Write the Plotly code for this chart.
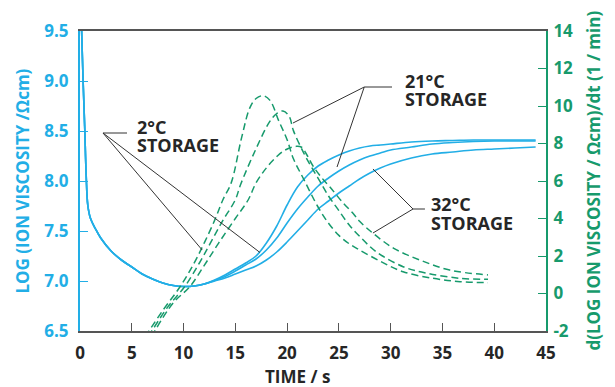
import plotly.graph_objects as go

# ---------------- data ----------------
t_blue = [0.1, 0.3, 0.45, 0.6, 0.75, 1.0, 1.5, 2, 3, 4, 5, 6, 7, 8, 9, 10, 11, 12, 13, 14,
          15, 16, 17, 18, 19, 20, 21, 22, 23, 24, 25, 26, 27, 28, 29, 30, 32, 34, 36, 38,
          40, 42, 44]
common_head = [9.7, 9.0, 8.55, 8.05, 7.76, 7.63, 7.52, 7.43, 7.30, 7.21, 7.14, 7.07, 7.02,
               6.98, 6.955, 6.945, 6.95, 6.97]
visc_a = common_head + [7.01, 7.06, 7.12, 7.18, 7.25, 7.38, 7.55, 7.76, 7.94, 8.06, 8.15,
                        8.21, 8.26, 8.30, 8.33, 8.35, 8.36, 8.37, 8.39, 8.40, 8.405, 8.41,
                        8.41, 8.41, 8.41]
visc_b = common_head + [7.005, 7.045, 7.10, 7.16, 7.22, 7.31, 7.43, 7.58, 7.72, 7.84, 7.95,
                        8.03, 8.10, 8.16, 8.21, 8.25, 8.28, 8.31, 8.34, 8.37, 8.385, 8.395,
                        8.40, 8.40, 8.40]
visc_c = common_head + [7.0, 7.03, 7.07, 7.11, 7.15, 7.21, 7.29, 7.39, 7.50, 7.61, 7.72,
                        7.80, 7.88, 7.95, 8.02, 8.08, 8.13, 8.17, 8.23, 8.27, 8.29, 8.31,
                        8.32, 8.33, 8.34]

t_deriv_a = [6.3, 8.0, 9.66, 11.0, 12.0, 13.0, 13.8, 14.6, 15.6, 16.4, 17.0, 17.7, 18.35,
             19.2, 20.0, 20.6, 21.6, 23.0, 24.0, 25.0, 26.0, 27.0, 29.0, 31.2, 34.1, 36.7, 39.4]
deriv_a = [-2.3, -0.9, 0.36, 1.6, 2.7, 3.9, 5.0, 5.9, 8.3, 9.9, 10.4, 10.55, 10.3,
           9.2, 8.2, 7.2, 6.1, 4.6, 3.75, 3.1, 2.65, 2.32, 1.72, 1.16, 0.81, 0.63, 0.58]

t_deriv_b = [6.6, 8.5, 10.1, 11.5, 12.6, 13.8, 15.0, 15.5, 16.9, 18.3, 19.0, 19.6, 20.2,
             20.6, 21.6, 22.4, 23.2, 24.0, 24.9, 26.0, 27.0, 28.6, 31.2, 33.5, 36.7, 39.4]
deriv_b = [-2.3, -0.7, 0.36, 1.6, 2.7, 3.9, 5.0, 5.8, 7.6, 9.15, 9.6, 9.73, 9.45,
           8.7, 7.5, 6.7, 5.95, 5.2, 4.5, 3.65, 3.05, 2.23, 1.43, 1.08, 0.81, 0.76]

t_deriv_c = [6.9, 9.0, 10.6, 12.0, 13.4, 15.0, 16.25, 17.0, 18.0, 19.0, 19.8, 20.9, 21.4,
             21.9, 22.5, 23.3, 24.1, 25.3, 26.4, 27.0, 28.3, 30.3, 32.8, 35.7, 39.4]
deriv_c = [-2.3, -0.5, 0.36, 1.5, 2.7, 4.0, 5.0, 5.9, 6.7, 7.3, 7.65, 7.85, 7.8,
           7.4, 6.8, 6.2, 5.7, 4.9, 4.25, 3.85, 3.21, 2.41, 1.79, 1.25, 0.99]

x_ticks = [0, 5, 10, 15, 20, 25, 30, 35, 40, 45]
y_left_ticks = [6.5, 7.0, 7.5, 8.0, 8.5, 9.0, 9.5]
y_left_labels = ["6.5", "7.0", "7.5", "8.0", "8.5", "9.0", "9.5"]
y_right_ticks = [-2, 0, 2, 4, 6, 8, 10, 12, 14]
y_right_labels = ["-2", "0", "2", "4", "6", "8", "10", "12", "14"]

# leader lines: (hub, horizontal end, pointer ends) in (time, log-viscosity) coords
leaders = {
    "2": {"hub": (2.22, 8.48), "h_end": (4.54, 8.48), "ends": [(11.8, 7.31), (17.38, 7.285)]},
    "21": {"hub": (27.45, 8.94), "h_end": (30.13, 8.94), "ends": [(20.57, 8.58), (24.82, 8.14)]},
    "32": {"hub": (32.16, 7.72), "h_end": (33.31, 7.72), "ends": [(28.29, 8.12), (28.29, 7.48)]},
}
labels = [
    ("2°C", 5.31, 8.543), ("STORAGE", 5.31, 8.365),
    ("21°C", 31.19, 9.0), ("STORAGE", 31.19, 8.825),
    ("32°C", 33.7, 7.773), ("STORAGE", 33.7, 7.583),
]

BLUE = "#22aee6"
GREEN = "#179a6c"
DARK = "#262626"
FONT = "Open Sans"

fig = go.Figure()
for v in (visc_a, visc_b, visc_c):
    fig.add_trace(go.Scatter(x=t_blue, y=v, mode="lines", line=dict(color=BLUE, width=1.6),
                             line_shape="spline", hoverinfo="skip", showlegend=False))
for tt, d in ((t_deriv_a, deriv_a), (t_deriv_b, deriv_b), (t_deriv_c, deriv_c)):
    fig.add_trace(go.Scatter(x=tt, y=d, mode="lines", yaxis="y2",
                             line=dict(color=GREEN, width=1.5, dash="7px,4px"),
                             line_shape="spline", hoverinfo="skip", showlegend=False))

for key, ld in leaders.items():
    hx, hy = ld["hub"]
    ex, ey = ld["h_end"]
    fig.add_shape(type="line", xref="x", yref="y", x0=hx, y0=hy, x1=ex, y1=ey,
                  line=dict(color="#333333", width=1))
    for (px, py) in ld["ends"]:
        fig.add_shape(type="line", xref="x", yref="y", x0=hx, y0=hy, x1=px, y1=py,
                      line=dict(color="#333333", width=1))

for txt, x, y in labels:
    fig.add_annotation(x=x, y=y, xref="x", yref="y", text=txt, showarrow=False,
                       xanchor="left", yanchor="middle",
                       font=dict(family=FONT, size=18, color=DARK, weight="bold"))

fig.add_annotation(x=-0.1255, y=0.5, xref="paper", yref="paper", textangle=-90,
                   xanchor="center", yanchor="middle",
                   text="LOG (ION VISCOSITY /Ωcm)", showarrow=False,
                   font=dict(family=FONT, size=17, color=BLUE, weight="bold"))
fig.add_annotation(x=1.1, y=0.5, xref="paper", yref="paper", textangle=-90,
                   xanchor="center", yanchor="middle",
                   text="d(LOG ION VISCOSITY / Ωcm)/dt (1 / min)", showarrow=False,
                   font=dict(family=FONT, size=17, color=GREEN, weight="bold"))
fig.add_annotation(x=0.4657, y=-0.105, xref="paper", yref="paper",
                   xanchor="center", yanchor="top",
                   text="TIME / s", showarrow=False,
                   font=dict(family=FONT, size=17, color=DARK, weight="bold"))

fig.update_layout(
    width=615, height=387, autosize=False,
    margin=dict(l=80, r=69, t=31, b=56),
    paper_bgcolor="white", plot_bgcolor="white",
    font=dict(family=FONT),
    xaxis=dict(range=[0, 45], tickvals=x_ticks, ticks="inside", ticklen=8, tickwidth=1.2,
               tickcolor="#555555", showline=True, linecolor="#555555", linewidth=1.8,
               mirror=True, showgrid=False, zeroline=False, ticklabelstandoff=6,
               tickfont=dict(family=FONT, size=17, color=DARK, weight="bold")),
    yaxis=dict(range=[6.5, 9.5], tickvals=y_left_ticks, ticktext=y_left_labels,
               ticks="inside", ticklen=8, tickwidth=1.2, tickcolor=BLUE,
               showline=True, linecolor=BLUE, linewidth=2, showgrid=False, zeroline=False,
               ticklabelstandoff=6,
               tickfont=dict(family=FONT, size=17, color=BLUE, weight="bold")),
    yaxis2=dict(range=[-2, 14], tickvals=y_right_ticks, ticktext=y_right_labels,
                overlaying="y", side="right", ticks="inside", ticklen=8, tickwidth=1.2,
                tickcolor=GREEN, showline=True, linecolor=GREEN, linewidth=2,
                showgrid=False, zeroline=False, ticklabelstandoff=2,
                tickfont=dict(family=FONT, size=17, color=GREEN, weight="bold")),
)

fig.write_html("out.html")
